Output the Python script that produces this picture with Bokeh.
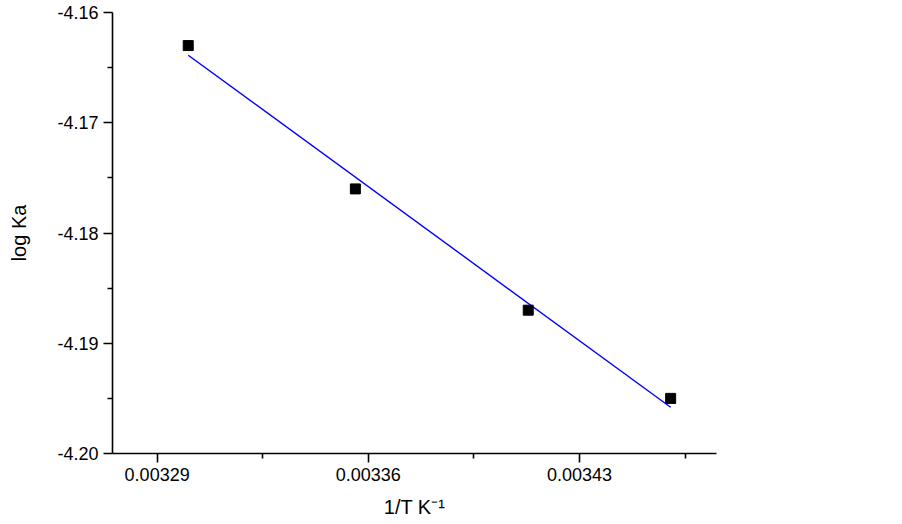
import numpy as np
from bokeh.plotting import figure
from bokeh.models import FixedTicker, PrintfTickFormatter, Range1d
from bokeh.embed import file_html
from bokeh.resources import INLINE

# Data
inv_T = [0.0033003, 0.0033557, 0.0034130, 0.0034602]
log_Ka = [-4.163, -4.176, -4.187, -4.195]

x_major = [0.00329, 0.00336, 0.00343]
x_minor = [0.003325, 0.003395, 0.003465]
y_major = [-4.20, -4.19, -4.18, -4.17, -4.16]
y_minor = [-4.195, -4.185, -4.175, -4.165]

x_label = "1/T K\u207b\u00b9"
y_label = "log Ka"

# linear fit
slope, intercept = np.polyfit(inv_T, log_Ka, 1)
fit_x = [min(inv_T), max(inv_T)]
fit_y = [slope * x + intercept for x in fit_x]

FONT = "Liberation Sans"

p = figure(frame_width=604, frame_height=441,
           min_border_left=112, min_border_top=12,
           min_border_right=166, min_border_bottom=60,
           x_range=Range1d(0.0032752, 0.0034754),
           y_range=Range1d(-4.20, -4.16),
           output_backend="svg", toolbar_location=None)

p.line(fit_x, fit_y, line_color="#0000FF", line_width=1.4)
p.scatter(inv_T, log_Ka, marker="square", size=10, fill_color="black", line_color="black")

p.xgrid.visible = False
p.ygrid.visible = False
p.outline_line_color = None

p.xaxis.ticker = FixedTicker(ticks=x_major, minor_ticks=x_minor)
p.yaxis.ticker = FixedTicker(ticks=y_major, minor_ticks=y_minor)
p.xaxis.formatter = PrintfTickFormatter(format="%.5f")
p.yaxis.formatter = PrintfTickFormatter(format="%.2f")

for ax in (p.xaxis, p.yaxis):
    ax.axis_line_width = 1.6
    ax.axis_line_color = "black"
    ax.major_tick_line_color = "black"
    ax.minor_tick_line_color = "black"
    ax.major_tick_line_width = 1.6
    ax.minor_tick_line_width = 1.6
    ax.major_tick_out = 9
    ax.major_tick_in = 0
    ax.minor_tick_out = 5
    ax.minor_tick_in = 0
    ax.major_label_text_font = FONT
    ax.major_label_text_font_size = "18px"
    ax.major_label_text_color = "black"
    ax.axis_label_text_font = FONT
    ax.axis_label_text_font_size = "20px"
    ax.axis_label_text_font_style = "normal"
    ax.axis_label_text_color = "black"

p.xaxis.major_label_standoff = 5
p.yaxis.major_label_standoff = 5
p.yaxis.axis_label = y_label
p.yaxis.axis_label_standoff = 24
p.xaxis.axis_label = x_label
p.xaxis.axis_label_standoff = 12

open("out.html", "w").write(file_html(p, INLINE))
